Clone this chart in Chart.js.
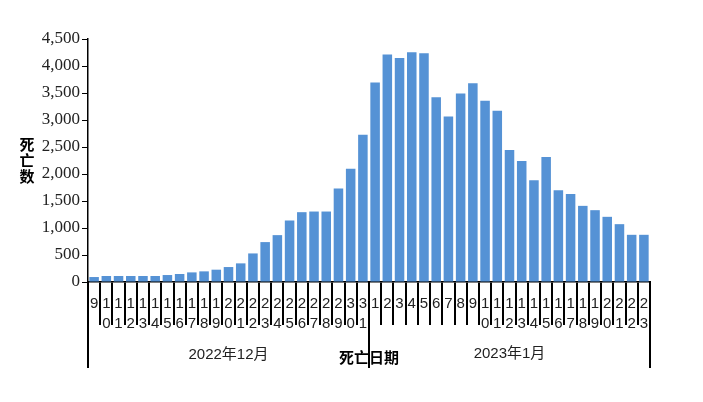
<!DOCTYPE html>
<html>
<head>
<meta charset="utf-8">
<script src="https://cdn.jsdelivr.net/npm/chart.js@4/dist/chart.umd.min.js"></script>
<style>
  html, body { margin: 0; padding: 0; background: #fff; }
  #wrap { width: 703px; height: 402px; }
</style>
</head>
<body>
<div id="wrap"><canvas id="deaths-chart"></canvas></div>
<script>
// days of death, Dec 9 2022 .. Jan 23 2023
const decDays = ['9','10','11','12','13','14','15','16','17','18','19','20','21','22','23','24','25','26','27','28','29','30','31'];
const janDays = ['1','2','3','4','5','6','7','8','9','10','11','12','13','14','15','16','17','18','19','20','21','22','23'];
const months = ['2022年12月', '2023年1月'];

const decDeaths = [92, 111, 111, 111, 111, 111, 129, 148, 178, 197, 228, 277, 345, 529, 739, 868, 1139, 1293, 1305, 1305, 1730, 2099, 2727];
const janDeaths = [3694, 4211, 4149, 4254, 4235, 3423, 3066, 3491, 3681, 3355, 3170, 2444, 2241, 1884, 2315, 1699, 1631, 1410, 1330, 1207, 1071, 874, 874];

const yTicks = { min: 0, max: 4500, step: 500 };

const days = decDays.concat(janDays);
const deaths = decDeaths.concat(janDeaths);

// month bands + titles under the x axis
const dateTable = {
    id: 'dateTable',
    afterDraw(chart) {
        const { ctx, chartArea } = chart;
        const top = chartArea.bottom;
        const n = days.length;
        const step = (chartArea.right - chartArea.left) / n;
        const decRight = chartArea.left + decDays.length * step;
        ctx.save();
        ctx.strokeStyle = '#000';
        ctx.lineWidth = 2;
        [chartArea.left, decRight, chartArea.right].forEach(px => {
            ctx.beginPath();
            ctx.moveTo(px, top);
            ctx.lineTo(px, top + 86);
            ctx.stroke();
        });
        ctx.fillStyle = '#222';
        ctx.textAlign = 'center';
        ctx.textBaseline = 'middle';
        ctx.font = '15px "Liberation Sans", "Noto Sans CJK SC"';
        ctx.fillText(months[0], (chartArea.left + decRight) / 2, top + 73);
        ctx.fillText(months[1], (decRight + chartArea.right) / 2, top + 72);

        ctx.font = 'bold 15px "Noto Sans CJK SC"';
        ctx.fillStyle = '#000';
        ctx.fillText('死亡日期', (chartArea.left + chartArea.right) / 2, top + 75);

        // vertical y title
        ['死', '亡', '数'].forEach((c, i) => {
            ctx.fillText(c, 27, 144 + i * 16);
        });
        ctx.restore();
    }
};

new Chart(document.querySelector('#deaths-chart').getContext('2d'), {
    type: 'bar',
    data: {
        labels: days,
        datasets: [{
            label: '死亡数',
            data: deaths,
            backgroundColor: '#5592d5',
            barPercentage: 0.78,
            categoryPercentage: 1
        }]
    },
    options: {
        responsive: true,
        maintainAspectRatio: false,
        animation: false,
        layout: { padding: { top: 39, right: 53, left: 0, bottom: 0 } },
        plugins: {
            legend: { display: false },
            tooltip: { enabled: false }
        },
        scales: {
            x: {
                grid: {
                    offset: true,
                    drawOnChartArea: false,
                    drawTicks: true,
                    tickLength: 43,
                    color: '#000',
                    lineWidth: 2
                },
                border: { display: true, color: '#000', width: 1.5 },
                ticks: {
                    autoSkip: false,
                    maxRotation: 0,
                    padding: -31,
                    color: '#222',
                    font: { family: '"Liberation Sans"', size: 15, lineHeight: 1.33 },
                    callback: function (value) {
                        return this.getLabelForValue(value).split('');
                    }
                },
                afterFit(scale) { scale.height = 120; }
            },
            y: {
                min: yTicks.min,
                max: yTicks.max,
                grid: { drawOnChartArea: false, drawTicks: true, tickLength: 6, color: '#000' },
                border: { display: true, color: '#000', width: 1.5 },
                ticks: {
                    stepSize: yTicks.step,
                    padding: 2,
                    color: '#222',
                    font: { family: '"Liberation Serif"', size: 17 }
                },
                afterFit(scale) { scale.width = 88; }
            }
        }
    },
    plugins: [dateTable]
});
</script>
</body>
</html>
